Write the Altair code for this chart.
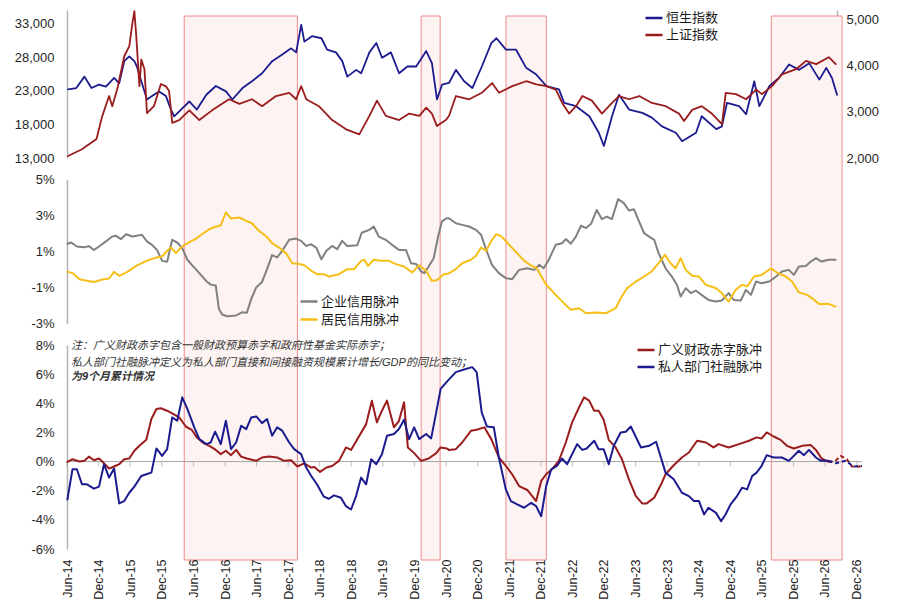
import altair as alt
import pandas as pd

FONT = '"Liberation Sans", "Noto Sans CJK SC", sans-serif'
BLUE = "#1b1b8f"
RED = "#9a1c1c"
GRAY = "#808080"
GOLD = "#f6bf17"

# ---------------- data (decimal year, value) ----------------
hsi = [(2014.43,23200),(2014.56,23400),(2014.69,25100),(2014.80,23400),(2014.92,23900),(2015.03,23600),
       (2015.16,24900),(2015.24,24100),(2015.32,27400),(2015.40,28100),(2015.48,27400),(2015.52,26600),
       (2015.60,24100),(2015.68,21700),(2015.76,22200),(2015.87,22900),(2015.98,22200),(2016.06,20200),
       (2016.11,19200),(2016.22,20200),(2016.35,21400),(2016.47,20200),(2016.62,22400),(2016.77,23700),
       (2016.93,22900),(2017.03,21700),(2017.19,23400),(2017.34,24400),(2017.50,25600),(2017.66,27400),
       (2017.82,28400),(2017.96,29300),(2018.04,28700),(2018.12,32800),(2018.17,30300),(2018.29,31100),
       (2018.44,30800),(2018.53,29100),(2018.67,28700),(2018.77,27400),(2018.85,25100),(2018.99,26100),
       (2019.07,25600),(2019.20,28700),(2019.31,30100),(2019.40,27900),(2019.54,28700),(2019.67,25600),
       (2019.80,26600),(2019.94,26600),(2020.10,28900),(2020.19,27100),(2020.27,21700),(2020.35,23900),
       (2020.46,24150),(2020.57,26100),(2020.70,24400),(2020.83,23400),(2020.98,26600),(2021.13,30100),
       (2021.21,30800),(2021.36,29100),(2021.52,29100),(2021.68,26400),(2021.84,25400),(2022.00,23700),
       (2022.20,23200),(2022.28,21200),(2022.47,20700),(2022.68,19200),(2022.83,16750),(2022.91,14800),
       (2023.04,19200),(2023.15,22400),(2023.31,20200),(2023.52,19700),(2023.67,19000),(2023.83,17700),
       (2024.05,16750),(2024.15,15500),(2024.37,16750),(2024.46,19200),(2024.69,17300),(2024.78,17700),
       (2024.86,21200),(2025.05,20700),(2025.16,19500),(2025.29,24400),(2025.37,20700),(2025.53,23700),
       (2025.68,24900),(2025.84,26900),(2026.00,26100),(2026.16,27100),(2026.32,24650),(2026.43,26400),
       (2026.52,24900),(2026.60,22400)]

sse = [(2014.43,2043),(2014.65,2190),(2014.88,2410),(2014.97,2900),(2015.08,3340),(2015.13,3120),
       (2015.21,3490),(2015.32,4200),(2015.40,4420),(2015.45,4920),(2015.48,5175),(2015.51,4640),
       (2015.56,3555),(2015.59,4130),(2015.64,3920),(2015.68,2970),(2015.79,3120),(2015.90,3600),
       (2015.98,3550),(2016.03,3450),(2016.08,2760),(2016.19,2820),(2016.35,3030),(2016.51,2820),
       (2016.71,3030),(2016.98,3270),(2017.14,3170),(2017.34,3270),(2017.50,3120),(2017.72,3340),
       (2017.93,3410),(2018.04,3270),(2018.12,3555),(2018.20,3270),(2018.40,3120),(2018.61,2820),
       (2018.83,2620),(2019.04,2510),(2019.20,2910),(2019.32,3240),(2019.46,2910),(2019.67,2820),
       (2019.83,2960),(2019.99,2910),(2020.10,3090),(2020.19,2960),(2020.27,2690),(2020.41,2820),
       (2020.46,2907),(2020.57,3340),(2020.78,3270),(2020.98,3410),(2021.14,3620),(2021.25,3410),
       (2021.46,3555),(2021.68,3660),(2021.84,3590),(2022.00,3555),(2022.15,3480),(2022.25,3190),
       (2022.36,2960),(2022.47,3120),(2022.57,3340),(2022.72,3240),(2022.88,2960),(2023.04,3190),
       (2023.15,3340),(2023.31,3270),(2023.47,3340),(2023.67,3190),(2023.89,3120),(2024.10,2960),
       (2024.18,2800),(2024.31,3040),(2024.46,3120),(2024.62,2960),(2024.78,2730),(2024.84,3410),
       (2025.00,3380),(2025.16,3270),(2025.32,3480),(2025.41,3380),(2025.57,3555),(2025.73,3810),
       (2025.95,3920),(2026.11,4100),(2026.27,4030),(2026.47,4180),(2026.58,4030)]

corp = [(2014.42,1.43),(2014.48,1.5),(2014.57,1.28),(2014.69,1.24),(2014.76,1.3),(2014.84,1.08),
        (2014.92,1.28),(2015.03,1.56),(2015.13,1.83),(2015.19,1.87),(2015.27,1.69),(2015.35,1.96),
        (2015.45,1.83),(2015.56,1.9),(2015.60,1.93),(2015.68,1.56),(2015.76,1.37),(2015.84,1.08),
        (2015.92,0.48),(2016.00,0.43),(2016.08,1.65),(2016.16,1.5),(2016.24,1.19),(2016.32,0.54),
        (2016.39,0.26),(2016.51,-0.2),(2016.62,-0.65),(2016.69,-0.84),(2016.77,-0.89),(2016.82,-2.2),
        (2016.87,-2.5),(2016.95,-2.6),(2017.09,-2.55),(2017.19,-2.37),(2017.26,-2.4),(2017.33,-1.63),
        (2017.41,-0.98),(2017.50,-0.7),(2017.58,0.02),(2017.66,0.8),(2017.74,0.67),(2017.82,1.04),
        (2017.93,1.65),(2018.04,1.72),(2018.12,1.59),(2018.20,1.31),(2018.28,1.4),(2018.36,1.22),
        (2018.44,0.57),(2018.52,1.04),(2018.61,1.31),(2018.69,1.13),(2018.77,1.59),(2018.85,1.31),
        (2019.01,1.35),(2019.08,2.04),(2019.20,2.2),(2019.27,2.39),(2019.35,1.83),(2019.46,1.65),
        (2019.56,1.37),(2019.67,1.09),(2019.78,1.09),(2019.86,0.35),(2019.94,0.31),(2020.02,-0.11),
        (2020.07,-0.2),(2020.14,0.17),(2020.22,0.63),(2020.29,1.83),(2020.35,2.67),(2020.43,2.85),
        (2020.46,2.85),(2020.57,2.57),(2020.67,2.48),(2020.78,2.39),(2020.89,2.2),(2020.97,1.93),
        (2021.05,1.09),(2021.14,0.26),(2021.25,-0.2),(2021.36,-0.48),(2021.46,-0.54),(2021.57,-0.02),
        (2021.70,0.07),(2021.81,-0.02),(2021.89,0.26),(2021.96,0.07),(2022.04,0.54),(2022.15,1.37),
        (2022.25,1.46),(2022.31,1.69),(2022.39,1.43),(2022.47,1.83),(2022.55,2.43),(2022.63,2.3),
        (2022.71,2.54),(2022.80,3.31),(2022.88,2.8),(2022.96,2.94),(2023.04,2.8),(2023.14,3.91),
        (2023.23,3.69),(2023.31,3.28),(2023.39,3.35),(2023.47,2.67),(2023.55,2.02),(2023.63,1.83),
        (2023.71,1.65),(2023.78,0.91),(2023.89,0.07),(2023.99,-0.39),(2024.07,-0.85),(2024.13,-1.5),
        (2024.21,-1.04),(2024.29,-1.31),(2024.37,-1.17),(2024.46,-1.41),(2024.57,-1.69),(2024.69,-1.78),
        (2024.78,-1.72),(2024.89,-1.31),(2024.97,-1.69),(2025.08,-1.72),(2025.16,-1.13),(2025.24,-1.41),
        (2025.32,-0.67),(2025.41,-0.76),(2025.53,-0.67),(2025.64,-0.39),(2025.73,-0.11),(2025.84,-0.02),
        (2025.92,-0.3),(2026.00,0.17),(2026.11,0.2),(2026.19,0.44),(2026.27,0.63),(2026.36,0.44),
        (2026.47,0.54),(2026.58,0.54)]

house = [(2014.42,-0.13),(2014.50,-0.2),(2014.61,-0.54),(2014.73,-0.63),(2014.84,-0.69),(2014.96,-0.57),
         (2015.08,-0.5),(2015.16,-0.13),(2015.24,-0.35),(2015.37,-0.13),(2015.51,0.2),(2015.67,0.48),
         (2015.83,0.67),(2015.92,0.72),(2016.00,1.04),(2016.06,1.22),(2016.14,0.91),(2016.22,1.22),
         (2016.32,1.46),(2016.46,1.72),(2016.55,1.96),(2016.69,2.28),(2016.85,2.46),(2016.93,3.17),
         (2017.01,2.83),(2017.14,2.89),(2017.25,2.7),(2017.34,2.57),(2017.45,2.15),(2017.57,1.83),
         (2017.66,1.46),(2017.77,1.22),(2017.88,0.91),(2017.98,0.35),(2018.09,0.3),(2018.17,0.24),
         (2018.28,-0.07),(2018.37,-0.26),(2018.48,-0.26),(2018.56,-0.39),(2018.72,-0.26),(2018.85,0.02),
         (2018.96,0.02),(2019.07,0.48),(2019.12,0.54),(2019.18,0.2),(2019.27,0.54),(2019.39,0.48),
         (2019.51,0.48),(2019.62,0.3),(2019.75,0.17),(2019.88,-0.17),(2019.99,0.24),(2020.10,-0.07),
         (2020.19,-0.63),(2020.27,-0.6),(2020.38,-0.26),(2020.46,-0.22),(2020.57,0.02),(2020.67,0.35),
         (2020.81,0.54),(2020.89,0.76),(2020.97,1.22),(2021.05,1.04),(2021.13,1.59),(2021.21,1.96),
         (2021.28,1.87),(2021.38,1.5),(2021.52,0.98),(2021.65,0.48),(2021.77,0.2),(2021.85,0.07),
         (2022.00,-0.85),(2022.15,-1.41),(2022.28,-1.87),(2022.39,-2.24),(2022.52,-2.15),(2022.63,-2.43),
         (2022.79,-2.39),(2022.95,-2.43),(2023.10,-2.15),(2023.18,-1.6),(2023.28,-1.04),(2023.42,-0.67),
         (2023.55,-0.39),(2023.67,-0.11),(2023.78,0.35),(2023.88,0.81),(2023.97,0.35),(2024.05,0.07),
         (2024.13,0.63),(2024.21,-0.02),(2024.31,-0.35),(2024.42,-0.39),(2024.53,-0.85),(2024.69,-1.04),
         (2024.78,-1.31),(2024.89,-1.78),(2025.00,-1.13),(2025.10,-0.85),(2025.18,-0.94),(2025.29,-0.39),
         (2025.41,-0.3),(2025.56,0.06),(2025.65,-0.17),(2025.79,-0.39),(2025.89,-0.67),(2026.00,-1.27),
         (2026.13,-1.41),(2026.21,-1.6),(2026.32,-1.91),(2026.47,-1.91),(2026.58,-2.06)]

fiscal = [(2014.42,-0.02),(2014.50,0.16),(2014.61,0.0),(2014.69,0.05),(2014.76,0.34),(2014.84,0.09),
          (2014.92,0.21),(2015.00,-0.12),(2015.08,-0.48),(2015.16,-0.34),(2015.24,-0.18),(2015.32,0.16),
          (2015.40,0.21),(2015.48,0.74),(2015.56,1.08),(2015.67,1.49),(2015.75,2.92),(2015.83,3.61),
          (2015.90,3.66),(2016.00,3.49),(2016.08,3.31),(2016.19,3.03),(2016.30,2.39),(2016.39,2.18),
          (2016.47,1.66),(2016.58,1.26),(2016.69,1.03),(2016.77,0.8),(2016.85,0.51),(2016.93,0.74),
          (2017.01,0.44),(2017.09,0.8),(2017.17,0.34),(2017.26,0.21),(2017.41,0.05),(2017.50,0.28),
          (2017.61,0.34),(2017.74,0.28),(2017.85,0.05),(2017.96,0.09),(2018.06,-0.34),(2018.17,-0.12),
          (2018.28,-0.41),(2018.33,-0.37),(2018.42,-0.71),(2018.52,-0.41),(2018.61,-0.3),(2018.72,0.05),
          (2018.83,0.97),(2018.91,0.8),(2019.01,1.54),(2019.15,2.57),(2019.24,4.18),(2019.32,2.69),
          (2019.40,3.49),(2019.48,4.18),(2019.59,2.35),(2019.67,2.8),(2019.75,4.07),(2019.81,0.97),
          (2019.91,0.58),(2020.02,0.05),(2020.14,0.21),(2020.26,0.58),(2020.33,0.97),(2020.43,0.9),
          (2020.46,0.8),(2020.57,0.85),(2020.67,1.31),(2020.81,2.11),(2020.90,2.18),(2021.02,2.35),
          (2021.13,1.54),(2021.25,0.28),(2021.36,-0.3),(2021.46,-0.87),(2021.57,-1.68),(2021.70,-1.95),
          (2021.84,-2.71),(2021.92,-1.33),(2022.00,-0.87),(2022.09,-0.53),(2022.20,0.05),(2022.31,1.31),
          (2022.41,2.69),(2022.52,3.72),(2022.60,4.41),(2022.68,4.18),(2022.76,3.49),(2022.83,3.49),
          (2022.91,2.87),(2022.99,1.49),(2023.10,0.97),(2023.20,0.16),(2023.31,-1.22),(2023.42,-2.37),
          (2023.52,-2.87),(2023.59,-2.87),(2023.71,-2.48),(2023.82,-1.56),(2023.89,-0.87),(2024.02,-0.25),
          (2024.15,0.28),(2024.26,0.62),(2024.39,1.43),(2024.53,1.31),(2024.65,0.97),(2024.73,1.2),
          (2024.89,0.97),(2025.05,1.2),(2025.21,1.43),(2025.33,1.66),(2025.41,1.59),(2025.49,2.0),
          (2025.60,1.72),(2025.71,1.49),(2025.81,1.08),(2025.92,0.9),(2026.05,1.08),(2026.19,1.13),
          (2026.27,0.8),(2026.36,0.21),(2026.47,-0.02)]
fiscal_fc = [(2026.47,-0.02),(2026.58,0.05),(2026.66,0.39),(2026.76,0.16),(2026.84,-0.34),(2027.00,-0.34)]

private = [(2014.42,-2.6),(2014.50,-0.53),(2014.57,-0.53),(2014.65,-1.56),(2014.73,-1.56),(2014.84,-1.86),
           (2014.92,-1.72),(2015.00,-0.18),(2015.08,-1.1),(2015.16,-0.48),(2015.24,-2.87),(2015.32,-2.71),
           (2015.40,-2.14),(2015.48,-1.72),(2015.59,-0.99),(2015.67,-0.87),(2015.75,-0.76),(2015.83,0.9),
           (2015.92,0.39),(2016.00,0.85),(2016.08,3.03),(2016.16,2.8),(2016.24,4.41),(2016.32,3.61),
           (2016.43,2.35),(2016.51,1.54),(2016.62,1.2),(2016.69,1.31),(2016.76,2.05),(2016.85,1.2),
           (2016.93,2.8),(2017.01,0.85),(2017.09,1.31),(2017.17,2.46),(2017.25,2.23),(2017.33,3.03),
           (2017.41,3.1),(2017.50,2.64),(2017.58,2.92),(2017.66,1.77),(2017.74,2.35),(2017.82,2.12),
           (2017.93,1.31),(2018.01,0.85),(2018.12,0.51),(2018.20,-0.41),(2018.28,-0.99),(2018.37,-1.56),
           (2018.48,-2.41),(2018.56,-2.55),(2018.64,-2.32),(2018.75,-2.48),(2018.83,-3.06),(2018.91,-3.29),
           (2018.99,-2.37),(2019.07,-1.1),(2019.15,-1.56),(2019.23,0.16),(2019.31,-0.18),(2019.40,0.51),
           (2019.48,1.77),(2019.59,1.89),(2019.67,2.23),(2019.75,2.87),(2019.83,1.54),(2019.91,2.35),
           (2019.99,1.54),(2020.10,1.89),(2020.18,1.59),(2020.26,3.38),(2020.33,4.99),(2020.43,5.49),
           (2020.57,6.14),(2020.70,6.32),(2020.83,6.48),(2020.90,6.14),(2020.98,3.38),(2021.06,2.41),
           (2021.17,2.35),(2021.25,0.28),(2021.36,-1.91),(2021.44,-2.71),(2021.54,-2.94),(2021.65,-3.17),
           (2021.76,-2.83),(2021.84,-3.06),(2021.92,-3.75),(2022.00,-1.68),(2022.08,-0.53),(2022.17,-0.3),
           (2022.25,0.21),(2022.33,-0.18),(2022.49,1.2),(2022.57,0.8),(2022.64,0.9),(2022.76,1.43),
           (2022.83,0.85),(2022.91,0.85),(2022.99,-0.18),(2023.07,1.08),(2023.18,2.0),(2023.26,2.05),
           (2023.34,2.41),(2023.50,0.97),(2023.63,1.08),(2023.74,1.36),(2023.89,-0.76),(2024.02,-1.22),
           (2024.15,-2.14),(2024.26,-2.37),(2024.34,-2.71),(2024.42,-2.71),(2024.50,-3.63),(2024.57,-3.17),
           (2024.69,-3.52),(2024.77,-4.09),(2024.84,-3.63),(2024.92,-2.94),(2025.02,-2.37),(2025.10,-1.79),
           (2025.18,-1.91),(2025.26,-0.99),(2025.33,-0.76),(2025.41,-0.3),(2025.49,0.44),(2025.60,0.28),
           (2025.73,0.28),(2025.84,0.05),(2026.00,0.74),(2026.08,0.44),(2026.16,0.8),(2026.27,0.28),
           (2026.35,0.05),(2026.47,0.05)]
private_fc = [(2026.47,0.05),(2026.58,-0.12),(2026.74,0.05),(2026.87,-0.34),(2027.00,-0.3)]

# shaded periods (decimal year start, end)
regions = [(2016.27, 2018.06), (2020.02, 2020.32), (2021.36, 2022.00), (2025.56, 2026.68)]

# x-axis tick dates (Jun / Dec)
tick_months = [(y, m) for y in range(2014, 2027) for m in (6, 12)]

top_names = ["恒生指数", "上证指数"]
mid_names = ["企业信用脉冲", "居民信用脉冲"]
bot_names = ["广义财政赤字脉冲", "私人部门社融脉冲"]
note_lines = ["注：广义财政赤字包含一般财政预算赤字和政府性基金实际赤字；",
              "私人部门社融脉冲定义为私人部门直接和间接融资规模累计增长/GDP的同比变动；",
              "为9个月累计情况"]


def dt(v):
    y = int(v)
    return pd.Timestamp(year=y, month=1, day=1) + pd.Timedelta(days=(v - y) * 365.25)


def dto(ts):
    return alt.DateTime(year=ts.year, month=ts.month, date=ts.day)


def frame(pairs, name):
    return pd.DataFrame({"date": [dt(a) for a, _ in pairs],
                         "value": [b for _, b in pairs], "series": name})


X0 = pd.Timestamp("2014-06-01")
TOP_END = dt(2026.60)
END = pd.Timestamp("2027-01-01")

xs_top = alt.Scale(domain=[dto(X0), dto(TOP_END)])
xs_main = alt.Scale(domain=[dto(X0), dto(END)])

reg_df = pd.DataFrame({"start": [dt(a) for a, _ in regions], "end": [dt(b) for _, b in regions]})
tick_df = pd.DataFrame({"date": [pd.Timestamp(year=y, month=m, day=1) for y, m in tick_months], "value": 0})

axis_common = dict(grid=False, ticks=False, title=None, domainColor="#b3b3b3", domainWidth=1.5,
                   labelFontSize=13, labelColor="#262626", labelOverlap=False)


def legend(x, y, rowpad):
    return alt.Legend(orient="none", legendX=x, legendY=y, title=None, symbolType="stroke",
                      symbolSize=289, symbolStrokeWidth=2.5, labelFontSize=13, labelColor="#1a1a1a",
                      rowPadding=rowpad, labelOffset=2, padding=0)


LINE = dict(strokeJoin="round", strokeCap="round")

# ---------------- top panel ----------------
rect = alt.Chart(reg_df).mark_rect(fill="#fcf3f2", stroke="#f08a8a", strokeWidth=1).encode(
    x=alt.X("start:T", scale=xs_top, axis=None), x2="end:T",
    y=alt.value(6), y2=alt.value(550))

top_color = alt.Color("series:N", scale=alt.Scale(domain=top_names, range=[BLUE, RED]),
                      legend=legend(577, -2, -4))

hsi_line = alt.Chart(frame(hsi, top_names[0])).mark_line(strokeWidth=1.8, **LINE).encode(
    x=alt.X("date:T", scale=xs_top, axis=None),
    y=alt.Y("value:Q", scale=alt.Scale(domain=[13000, 35000]),
            axis=alt.Axis(orient="left", values=[13000, 18000, 23000, 28000, 33000], format=",.0f",
                          labelPadding=13, **axis_common)),
    color=top_color)

sse_line = alt.Chart(frame(sse, top_names[1])).mark_line(strokeWidth=1.8, **LINE).encode(
    x=alt.X("date:T", scale=xs_top, axis=None),
    y=alt.Y("value:Q", scale=alt.Scale(domain=[2000, 5200]),
            axis=alt.Axis(orient="right", values=[2000, 3000, 4000, 5000], format=",.0f",
                          labelPadding=9, **axis_common)),
    color=top_color)

top = alt.layer(rect, hsi_line, sse_line).resolve_scale(y="independent").properties(width=770, height=148)

# ---------------- middle panel ----------------
mid_df = pd.concat([frame(corp, mid_names[0]), frame(house, mid_names[1])])
mid = alt.Chart(mid_df).mark_line(strokeWidth=2, **LINE).encode(
    x=alt.X("date:T", scale=xs_main, axis=None),
    y=alt.Y("value:Q", scale=alt.Scale(domain=[-3, 5]),
            axis=alt.Axis(values=[-3, -1, 1, 3, 5], labelExpr="datum.value + '%'",
                          labelPadding=13, **axis_common)),
    color=alt.Color("series:N", scale=alt.Scale(domain=mid_names, range=[GRAY, GOLD]),
                    legend=legend(232, 112, 1)),
).properties(width=795, height=144)

# ---------------- bottom panel ----------------
bot_y = alt.Y("value:Q", scale=alt.Scale(domain=[-6, 8]),
              axis=alt.Axis(values=[-6, -4, -2, 0, 2, 4, 6, 8], labelExpr="datum.value + '%'",
                            labelPadding=13, **axis_common))
bot_x = alt.X("date:T", scale=xs_main,
              axis=alt.Axis(values=[dto(d) for d in tick_df["date"]], format="%b-%y", labelAngle=270,
                            labelFontSize=12.5, labelColor="#1a1a1a", domain=False, ticks=False,
                            grid=False, labelPadding=10, labelOverlap=False, labelFlush=False, title=None))
bot_color = alt.Color("series:N", scale=alt.Scale(domain=bot_names, range=[RED, BLUE]),
                      legend=legend(569, -5, -1))

zero_line = alt.Chart(pd.DataFrame({"value": [0]})).mark_rule(color="#a6a6a6", strokeWidth=1).encode(y=bot_y)
zero_ticks = alt.Chart(tick_df).mark_tick(orient="vertical", color="#a6a6a6", size=5, thickness=1,
                                          yOffset=2.5).encode(x=bot_x, y=bot_y)
solid_df = pd.concat([frame(fiscal, bot_names[0]), frame(private, bot_names[1])])
fc_df = pd.concat([frame(fiscal_fc, bot_names[0]), frame(private_fc, bot_names[1])])
bot_lines = alt.Chart(solid_df).mark_line(strokeWidth=2, **LINE).encode(x=bot_x, y=bot_y, color=bot_color)
bot_fc = alt.Chart(fc_df).mark_line(strokeWidth=2, strokeDash=[4, 3]).encode(x=bot_x, y=bot_y, color=bot_color)

notes = []
for i, (txt, yy) in enumerate(zip(note_lines, [1, 18, 32])):
    notes.append(alt.Chart(pd.DataFrame({"t": [txt]})).mark_text(
        align="left", baseline="middle", fontSize=11, fontStyle="italic",
        fontWeight="bold" if i == 2 else "normal", color="#333333").encode(
        x=alt.value(4), y=alt.value(yy), text="t:N"))

bottom = alt.layer(zero_line, zero_ticks, bot_lines, bot_fc, *notes).properties(width=795, height=204)

chart = alt.vconcat(top, mid, bottom, spacing=21.5, bounds="flush").resolve_scale(
    x="independent", y="independent", color="independent").resolve_legend(color="independent").properties(
    padding={"left": 6, "top": 0, "right": 6, "bottom": 0}).configure(font=FONT).configure_view(stroke=None)

chart.save("out.html", embed_options={"renderer": "svg", "actions": False})
